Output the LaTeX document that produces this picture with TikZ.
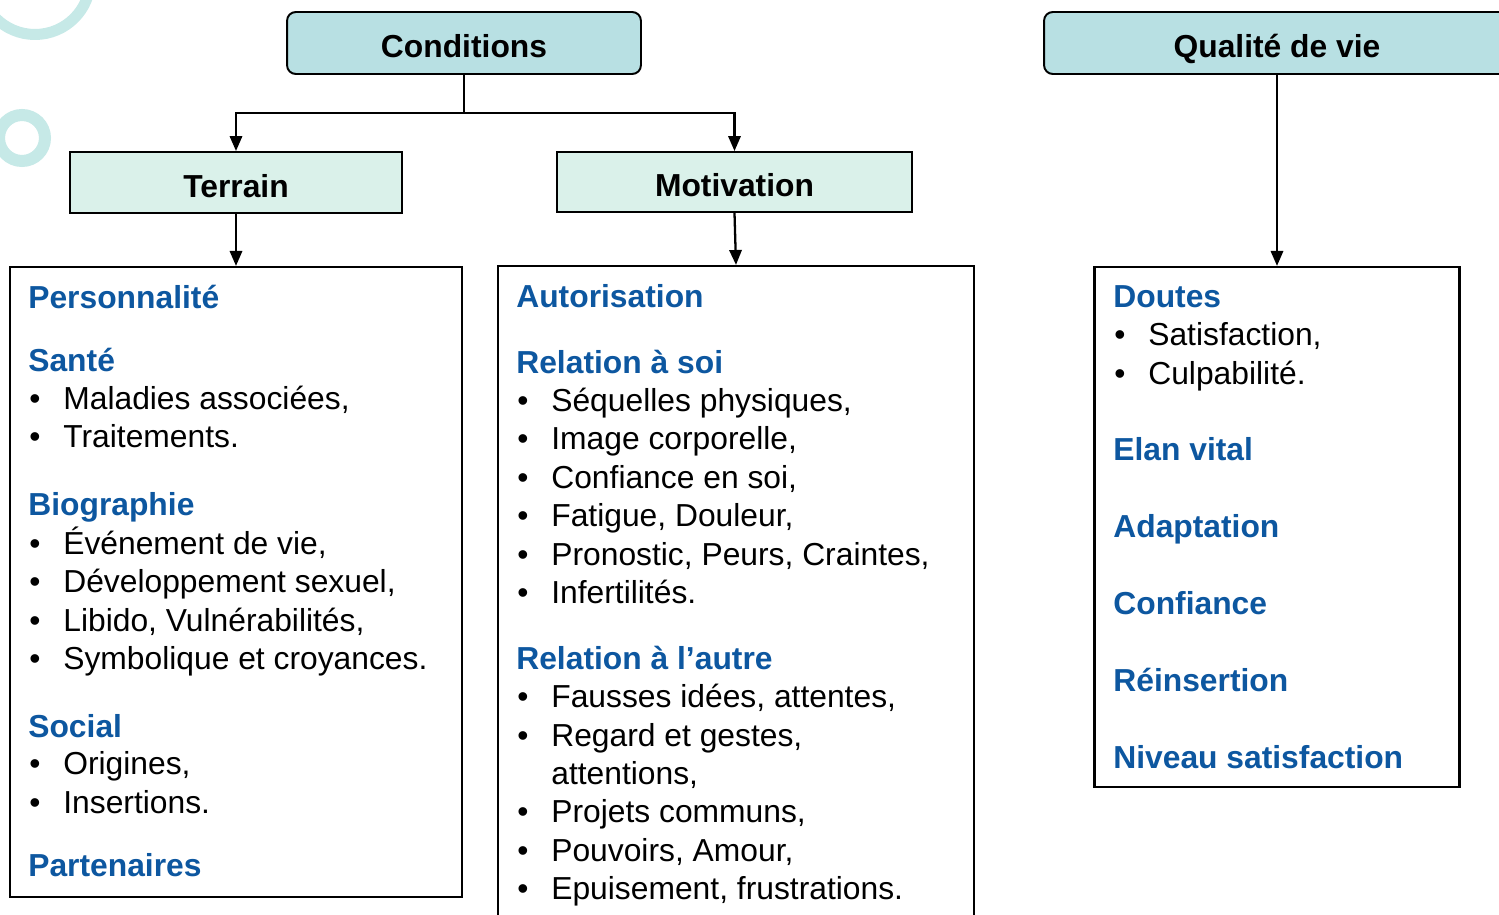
\documentclass[tikz,border=0pt]{standalone}
\usepackage{fontspec}
\setmainfont{Liberation Sans}
\usetikzlibrary{arrows.meta, positioning}

\definecolor{TopColor}{HTML}{B8E0E3}
\definecolor{SubColor}{HTML}{DAF1EA}
\definecolor{HeadBlue}{HTML}{0D57A0}
\definecolor{RingColor}{HTML}{C6E9E7}

\tikzstyle{top_box}=[rectangle, draw=black, line width=1.1pt,
        rounded corners=5, fill=TopColor, font=\bfseries,
        text height=16.6pt, text depth=0pt]
\tikzstyle{sub_box}=[rectangle, draw=black, line width=1.1pt,
        fill=SubColor, font=\bfseries,
        text height=16.6pt, text depth=0pt]
\tikzstyle{list_box}=[rectangle, draw=black, line width=1.3pt]
\tikzstyle{head_line}=[anchor=base west, inner sep=0, yshift=-1pt,
        text=HeadBlue, font=\bfseries]
\tikzstyle{item_line}=[anchor=base west, inner sep=0, yshift=-1pt]
\tikzstyle{link}=[line width=1.3pt, -{Triangle[length=8.5pt,width=7pt]}]

\newcommand{\bul}{\llap{\textbullet\hspace{13pt}}}

\begin{document}
\fontsize{18.1pt}{21.6pt}\selectfont
\begin{tikzpicture}[x=0.02cm, y=-0.02cm]
    \clip (0,0) rectangle (1499,915);
    \fill[white] (0,0) rectangle (1499,915);

    % rings in the corner
    \draw[RingColor, line width=0.22cm] (35,-21) circle (1.11cm);
    \draw[RingColor, line width=0.24cm] (22,138) circle (0.46cm);

    \node at (464,43) (cond) [top_box, minimum width=7.08cm, minimum height=1.24cm] {Conditions};
    \node at (1277,43) (qual) [top_box, minimum width=9.32cm, minimum height=1.24cm] {Qualité de vie};
    \node at (236,182.5) (terrain) [sub_box, minimum width=6.64cm, minimum height=1.22cm] {Terrain};
    \node at (734.5,182) (motiv) [sub_box, minimum width=7.1cm, minimum height=1.2cm] {Motivation};

    \node at (236,582) (left) [list_box, minimum width=9.04cm, minimum height=12.6cm] {};
    \node at (736,603) (mid) [list_box, minimum width=9.52cm, minimum height=13.48cm] {};
    \node at (1277,527) (right) [list_box, minimum width=7.3cm, minimum height=10.4cm] {};

    \coordinate (split) at (464,113);
    \draw[line width=1.3pt] (cond.south) -- (split);
    \draw[link] (split) -| (terrain.north);
    \draw[link] (split) -| (motiv.north);
    \draw[link] (terrain.south) -- (left.north);
    \draw[link] (motiv.south) -- (mid.north);
    \draw[link] (qual.south) -- (right.north);

    % left column
    \foreach \txt/\yy [count=\i] in {Personnalité/307, Santé/370, Biographie/514,
            Social/736, Partenaires/875} {
        \node at (28,\yy) (lh\i) [head_line] {\txt};
    }
    \foreach \txt/\yy [count=\i] in {{Maladies associées,}/408, Traitements./446,
            {Événement de vie,}/553, {Développement sexuel,}/591,
            {Libido, Vulnérabilités,}/630, {Symbolique et croyances.}/668,
            {Origines,}/773, Insertions./812} {
        \node at (63,\yy) (li\i) [item_line] {\bul\txt};
    }

    % middle column
    \foreach \txt/\yy [count=\i] in {Autorisation/306, Relation à soi/372,
            Relation à l’autre/668} {
        \node at (516,\yy) (mh\i) [head_line] {\txt};
    }
    \foreach \txt/\yy [count=\i] in {{Séquelles physiques,}/410, {Image corporelle,}/448,
            {Confiance en soi,}/487, {Fatigue, Douleur,}/525,
            {Pronostic, Peurs, Craintes,}/564, Infertilités./602,
            {Fausses idées, attentes,}/706, {Regard et gestes,}/745,
            {Projets communs,}/821, {Pouvoirs, Amour,}/860,
            {Epuisement, frustrations.}/898} {
        \node at (551,\yy) (mi\i) [item_line] {\bul\txt};
    }
    \node at (551,783) (mi-cont) [item_line] {attentions,};

    % right column
    \foreach \txt/\yy [count=\i] in {Doutes/306, Elan vital/459, Adaptation/536,
            Confiance/613, Réinsertion/690, Niveau satisfaction/767} {
        \node at (1113,\yy) (rh\i) [head_line] {\txt};
    }
    \foreach \txt/\yy [count=\i] in {{Satisfaction,}/344, Culpabilité./383} {
        \node at (1148,\yy) (ri\i) [item_line] {\bul\txt};
    }
\end{tikzpicture}
\end{document}
